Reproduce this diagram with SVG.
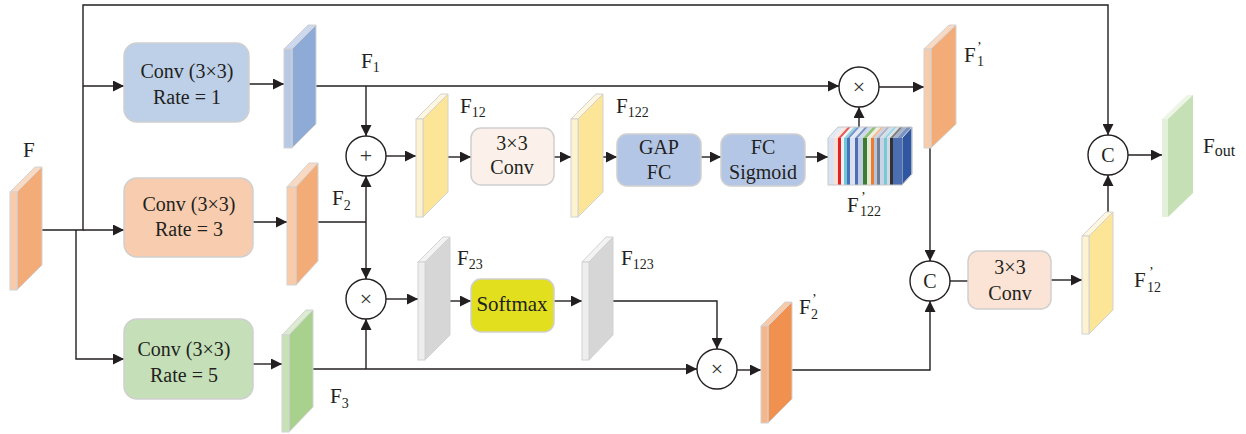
<svg xmlns="http://www.w3.org/2000/svg" width="1246" height="434" viewBox="0 0 1246 434" font-family="'Liberation Serif', 'DejaVu Serif', serif">
<defs>
<marker id="ah" markerWidth="11" markerHeight="11" refX="11" refY="5.5" orient="auto" markerUnits="userSpaceOnUse"><path d="M0,0 L11,5.5 L0,11 z" fill="#231f20"/></marker>
<style>
text{font-family:'Liberation Serif','DejaVu Serif',serif;fill:#231f20}
.t{font-size:20px;text-anchor:middle}
.lb{font-size:21px}
.sb{font-size:14px}
.box{stroke:#cfcfcf;stroke-width:1.5}
.sl{stroke:#d2d2d2;stroke-width:1}
.op{fill:#fff;stroke:#231f20;stroke-width:1.4}
.sym{font-size:22px;text-anchor:middle;fill:#333}
.cn{fill:none;stroke:#231f20;stroke-width:1.4}
.ar{marker-end:url(#ah)}
.or1{fill:#f8cbaa}.or2{fill:#f3ac78}.or3{fill:#fad9c2}
.bl1{fill:#b8c9e5}.bl2{fill:#8eaad7}.bl3{fill:#cbd8ed}
.gr1{fill:#c8e2b8}.gr2{fill:#a8d18d}.gr3{fill:#dcecd0}
.ye1{fill:#fef3d0}.ye2{fill:#fde597}.ye3{fill:#fef6de}
.gy1{fill:#eeeeee}.gy2{fill:#d6d6d6}.gy3{fill:#f3f3f3}
.do1{fill:#f6b68b}.do2{fill:#f0914f}.do3{fill:#f9caa9}
.lg1{fill:#e3f0da}.lg2{fill:#c6e0b6}.lg3{fill:#ecf5e6}
</style>
</defs>

<g id="connectors">
<path class="cn ar" d="M42,230 H83 V5 H1108 V135"/>
<path class="cn ar" d="M83,86 H124"/>
<path class="cn ar" d="M83,230 H124"/>
<path class="cn ar" d="M76,230 V359 H124"/>
<path class="cn ar" d="M249,84 H284"/>
<path class="cn ar" d="M253,222 H287"/>
<path class="cn ar" d="M253,364 H282"/>
<path class="cn ar" d="M316,86 H839"/>
<path class="cn ar" d="M366,86 V136"/>
<path class="cn" d="M318,222 H366"/>
<path class="cn ar" d="M366,222 V176"/>
<path class="cn ar" d="M366,222 V279"/>
<path class="cn ar" d="M313,369 H697"/>
<path class="cn ar" d="M366,369 V319"/>
<path class="cn ar" d="M386,156 H416"/>
<path class="cn ar" d="M445,157 H471"/>
<path class="cn ar" d="M554,157 H571"/>
<path class="cn ar" d="M598,157 H617"/>
<path class="cn ar" d="M701,157 H721"/>
<path class="cn ar" d="M805,157 H828"/>
<path class="cn ar" d="M859,127 V107"/>
<path class="cn ar" d="M879,87 H924"/>
<path class="cn ar" d="M930,148 V261"/>
<path class="cn ar" d="M386,299 H418"/>
<path class="cn ar" d="M445,301 H471"/>
<path class="cn ar" d="M554,301 H582"/>
<path class="cn ar" d="M613,301 H717 V349"/>
<path class="cn ar" d="M737,370 H761"/>
<path class="cn ar" d="M792,370 H930 V301"/>
<path class="cn" d="M950,281 H968"/>
<path class="cn ar" d="M1051,280 H1082"/>
<path class="cn ar" d="M1108,212 V175"/>
<path class="cn ar" d="M1128,155 H1162"/>
</g>

<g id="F">
<polygon class="sl or3" points="10,192 17,192 42,167 35,167"/>
<polygon class="sl or2" points="17,192 42,167 42,265 17,290"/>
<rect class="sl or1" x="10" y="192" width="7" height="98"/>
<text class="lb" x="23" y="157">F</text>
</g>

<g id="conv1">
<rect class="box" x="124" y="43" width="125" height="79" rx="13" fill="#bdd0e8"/>
<text class="t" x="187" y="78">Conv (3×3)</text>
<text class="t" x="187" y="104">Rate = 1</text>
</g>
<g id="conv3">
<rect class="box" x="124" y="178" width="129" height="79" rx="13" fill="#f8cdaf"/>
<text class="t" x="189" y="211">Conv (3×3)</text>
<text class="t" x="189" y="236">Rate = 3</text>
</g>
<g id="conv5">
<rect class="box" x="124" y="319" width="129" height="80" rx="13" fill="#c5dfb8"/>
<text class="t" x="184" y="356">Conv (3×3)</text>
<text class="t" x="184" y="382">Rate = 5</text>
</g>

<g id="F1">
<polygon class="sl bl3" points="284,49 292,49 316,25 308,25"/>
<polygon class="sl bl2" points="292,49 316,25 316,124 292,148"/>
<rect class="sl bl1" x="284" y="49" width="8" height="99"/>
<text class="lb" x="361" y="68">F<tspan class="sb" dy="4">1</tspan></text>
</g>
<g id="F2">
<polygon class="sl or3" points="287,187 296,187 318,163 309,163"/>
<polygon class="sl or2" points="296,187 318,163 318,261 296,285"/>
<rect class="sl or1" x="287" y="187" width="9" height="98"/>
<text class="lb" x="332" y="205">F<tspan class="sb" dy="5">2</tspan></text>
</g>
<g id="F3">
<polygon class="sl gr3" points="282,335 289,335 313,310 306,310"/>
<polygon class="sl gr2" points="289,335 313,310 313,407 289,432"/>
<rect class="sl gr1" x="282" y="335" width="7" height="97"/>
<text class="lb" x="330" y="403">F<tspan class="sb" dy="5">3</tspan></text>
</g>

<g id="plus">
<circle class="op" cx="366" cy="156" r="20"/>
<text class="sym" x="366" y="163">+</text>
</g>
<g id="mul1">
<circle class="op" cx="366" cy="299" r="20"/>
<text class="sym" x="366" y="306">×</text>
</g>

<g id="F12">
<polygon class="sl ye3" points="416,119 423,119 448,94 441,94"/>
<polygon class="sl ye2" points="423,119 448,94 448,192 423,217"/>
<rect class="sl ye1" x="416" y="119" width="7" height="98"/>
<text class="lb" x="460" y="113">F<tspan class="sb" dy="4">12</tspan></text>
</g>
<g id="conv33a">
<rect class="box" x="471" y="128" width="83" height="57" rx="10" fill="#fbf1ea"/>
<text class="t" x="512" y="150">3×3</text>
<text class="t" x="512" y="174">Conv</text>
</g>
<g id="F122">
<polygon class="sl ye3" points="571,119 578,119 603,94 596,94"/>
<polygon class="sl ye2" points="578,119 603,94 603,192 578,217"/>
<rect class="sl ye1" x="571" y="119" width="7" height="98"/>
<text class="lb" x="616" y="113">F<tspan class="sb" dy="4">122</tspan></text>
</g>
<g id="gapfc">
<rect class="box" x="617" y="134" width="84" height="52" rx="10" fill="#b4c6e6"/>
<text class="t" x="659" y="154">GAP</text>
<text class="t" x="659" y="179">FC</text>
</g>
<g id="fcsig">
<rect class="box" x="721" y="134" width="84" height="52" rx="10" fill="#b4c6e6"/>
<text class="t" x="763" y="154">FC</text>
<text class="t" x="763" y="179">Sigmoid</text>
</g>

<g id="F122p">
<g transform="translate(0,138) skewX(-42.27) translate(0,-138)" opacity="0.75">
<rect x="828" y="127" width="6" height="11" fill="#dae3f3"/>
<rect x="834" y="127" width="4" height="11" fill="#fbe0d0"/>
<rect x="838" y="127" width="3" height="11" fill="#e32228"/>
<rect x="841" y="127" width="3" height="11" fill="#f2f2f2"/>
<rect x="844" y="127" width="3" height="11" fill="#71c8da"/>
<rect x="847" y="127" width="3" height="11" fill="#4a72b8"/>
<rect x="850" y="127" width="5" height="11" fill="#d9e2f0"/>
<rect x="855" y="127" width="3" height="11" fill="#4f6fb0"/>
<rect x="858" y="127" width="5" height="11" fill="#bfcde6"/>
<rect x="863" y="127" width="4" height="11" fill="#70ad47"/>
<rect x="867" y="127" width="4" height="11" fill="#e4ead8"/>
<rect x="871" y="127" width="3" height="11" fill="#f4a36a"/>
<rect x="874" y="127" width="3" height="11" fill="#b7c4da"/>
<rect x="877" y="127" width="3" height="11" fill="#8f9db5"/>
<rect x="880" y="127" width="4" height="11" fill="#c9d3e3"/>
<rect x="884" y="127" width="3" height="11" fill="#76c9d8"/>
<rect x="887" y="127" width="3" height="11" fill="#d4d9e0"/>
<rect x="890" y="127" width="3" height="11" fill="#555"/>
<rect x="893" y="127" width="4" height="11" fill="#8a9bb5"/>
<rect x="897" y="127" width="5" height="11" fill="#4e6faf"/>
</g>
<polygon points="902,138 912,127 912,174 902,185" fill="#2f56a0" stroke="#d2d2d2" stroke-width="1"/>
<rect x="828" y="138" width="6" height="47" fill="#dae3f3"/>
<rect x="834" y="138" width="4" height="47" fill="#fbe0d0"/>
<rect x="838" y="138" width="3" height="47" fill="#e32228"/>
<rect x="841" y="138" width="3" height="47" fill="#f2f2f2"/>
<rect x="844" y="138" width="3" height="47" fill="#71c8da"/>
<rect x="847" y="138" width="3" height="47" fill="#4a72b8"/>
<rect x="850" y="138" width="5" height="47" fill="#d9e2f0"/>
<rect x="855" y="138" width="3" height="47" fill="#4f6fb0"/>
<rect x="858" y="138" width="5" height="47" fill="#bfcde6"/>
<rect x="863" y="138" width="4" height="47" fill="#3e7d2f"/>
<rect x="867" y="138" width="4" height="47" fill="#e4ead8"/>
<rect x="871" y="138" width="3" height="47" fill="#ee7b30"/>
<rect x="874" y="138" width="3" height="47" fill="#b7c4da"/>
<rect x="877" y="138" width="3" height="47" fill="#6e7c96"/>
<rect x="880" y="138" width="4" height="47" fill="#c9d3e3"/>
<rect x="884" y="138" width="3" height="47" fill="#76c9d8"/>
<rect x="887" y="138" width="3" height="47" fill="#d4d9e0"/>
<rect x="890" y="138" width="3" height="47" fill="#333"/>
<rect x="893" y="138" width="4" height="47" fill="#4a6db3"/>
<rect x="897" y="138" width="5" height="47" fill="#4e6faf"/>
<polygon points="828,138 838,127 912,127 912,174 902,185 828,185" fill="none" stroke="#c8c8c8" stroke-width="1"/>
<text class="lb" x="847" y="212">F<tspan class="sb" x="861" y="202">’</tspan><tspan class="sb" x="860" y="216">122</tspan></text>
</g>

<g id="mul2">
<circle class="op" cx="859" cy="87" r="20"/>
<text class="sym" x="859" y="94">×</text>
</g>
<g id="F1p">
<polygon class="sl or3" points="924,49 931,49 956,25 949,25"/>
<polygon class="sl or2" points="931,49 956,25 956,124 931,148"/>
<rect class="sl or1" x="924" y="49" width="7" height="99"/>
<text class="lb" x="964" y="62">F<tspan class="sb" x="977" y="52">’</tspan><tspan class="sb" x="977" y="66">1</tspan></text>
</g>

<g id="F23">
<polygon class="sl gy3" points="418,262 425,262 450,237 443,237"/>
<polygon class="sl gy2" points="425,262 450,237 450,335 425,360"/>
<rect class="sl gy1" x="418" y="262" width="7" height="98"/>
<text class="lb" x="457" y="265">F<tspan class="sb" dy="4">23</tspan></text>
</g>
<g id="softmax">
<rect class="box" x="471" y="279" width="83" height="53" rx="10" fill="#e2e01e"/>
<text class="t" x="512" y="311" style="font-size:21px">Softmax</text>
</g>
<g id="F123">
<polygon class="sl gy3" points="582,262 589,262 613,237 606,237"/>
<polygon class="sl gy2" points="589,262 613,237 613,335 589,360"/>
<rect class="sl gy1" x="582" y="262" width="7" height="98"/>
<text class="lb" x="621" y="265">F<tspan class="sb" dy="4">123</tspan></text>
</g>
<g id="mul3">
<circle class="op" cx="717" cy="369" r="20"/>
<text class="sym" x="717" y="376">×</text>
</g>
<g id="F2p">
<polygon class="sl do3" points="761,326 768,326 792,302 785,302"/>
<polygon class="sl do2" points="768,326 792,302 792,399 768,423"/>
<rect class="sl do1" x="761" y="326" width="7" height="97"/>
<text class="lb" x="799" y="314">F<tspan class="sb" x="812" y="304">’</tspan><tspan class="sb" x="811" y="319">2</tspan></text>
</g>

<g id="cat1">
<circle class="op" cx="930" cy="281" r="20"/>
<text class="t" x="930" y="288">C</text>
</g>
<g id="conv33b">
<rect class="box" x="968" y="251" width="83" height="58" rx="10" fill="#fbe3d6"/>
<text class="t" x="1010" y="274">3×3</text>
<text class="t" x="1010" y="300">Conv</text>
</g>
<g id="F12p">
<polygon class="sl ye3" points="1082,236 1089,236 1113,212 1106,212"/>
<polygon class="sl ye2" points="1089,236 1113,212 1113,310 1089,334"/>
<rect class="sl ye1" x="1082" y="236" width="7" height="98"/>
<text class="lb" x="1134" y="287">F<tspan class="sb" x="1149" y="277">’</tspan><tspan class="sb" x="1147" y="292">12</tspan></text>
</g>
<g id="cat2">
<circle class="op" cx="1108" cy="155" r="20"/>
<text class="t" x="1108" y="162">C</text>
</g>
<g id="Fout">
<polygon class="lg3" points="1162,119 1168,119 1193,95 1187,95"/>
<polygon class="lg2" points="1168,119 1193,95 1193,193 1168,217"/>
<rect class="lg1" x="1162" y="119" width="6" height="98"/>
<text class="lb" x="1203" y="153">F<tspan style="font-size:16px" dy="3">out</tspan></text>
</g>
</svg>
